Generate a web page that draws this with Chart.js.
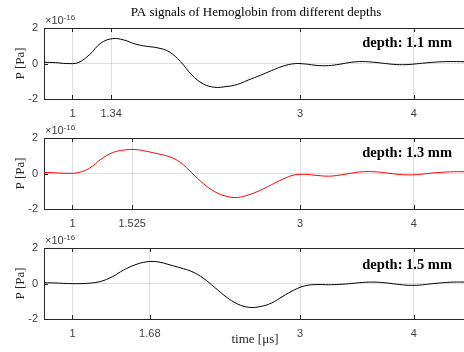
<!DOCTYPE html>
<html>
<head>
<meta charset="utf-8">
<script src="https://cdn.jsdelivr.net/npm/chart.js@4.4.0/dist/chart.umd.min.js"></script>
<style>
  html, body { margin: 0; padding: 0; background: #fff; overflow: hidden; }
  body { width: 464px; height: 352px; position: relative; }
  canvas { position: absolute; left: 0; }
</style>
</head>
<body>
<canvas id="c1" width="470" height="118" style="top:0px"></canvas>
<canvas id="c2" width="470" height="112" style="top:118px"></canvas>
<canvas id="c3" width="470" height="122" style="top:230px"></canvas>
<script>
// time axis in microseconds
const timeUs = [0.75, 0.85, 0.95, 1.05, 1.15, 1.25, 1.35, 1.45, 1.55, 1.65,
  1.75, 1.85, 1.95, 2.05, 2.15, 2.25, 2.35, 2.45, 2.55, 2.65,
  2.75, 2.85, 2.95, 3.05, 3.15, 3.25, 3.35, 3.45, 3.55, 3.65,
  3.75, 3.85, 3.95, 4.05, 4.15, 4.25, 4.35, 4.45];

// pressure, in units of 1e-16 Pa
const p11 = [0.07, 0.05, 0.0, 0.05, 0.5, 1.15, 1.4, 1.33, 1.1, 0.97,
  0.88, 0.66, 0.1, -0.65, -1.15, -1.34, -1.3, -1.18, -0.92, -0.67,
  -0.4, -0.15, -0.01, -0.03, -0.11, -0.12, -0.04, 0.07, 0.11, 0.07,
  0.0, -0.06, -0.06, 0.0, 0.06, 0.1, 0.11, 0.1];
const p13 = [0.06, 0.04, 0.01, 0.05, 0.3, 0.8, 1.17, 1.32, 1.35, 1.25,
  1.11, 0.95, 0.62, 0.03, -0.57, -1.02, -1.28, -1.35, -1.2, -0.95,
  -0.63, -0.32, -0.08, -0.05, -0.11, -0.15, -0.09, 0.02, 0.1, 0.1,
  0.04, -0.04, -0.08, -0.05, 0.02, 0.07, 0.1, 0.1];
const p15 = [0.04, 0.03, 0.0, -0.01, 0.02, 0.12, 0.38, 0.76, 1.05, 1.22,
  1.22, 1.06, 0.88, 0.67, 0.3, -0.22, -0.75, -1.15, -1.34, -1.3,
  -1.1, -0.72, -0.36, -0.12, -0.06, -0.07, -0.05, 0.0, 0.06, 0.08,
  0.04, -0.04, -0.1, -0.09, -0.02, 0.04, 0.08, 0.08];

const xTicks11 = [1, 1.34, 3, 4];
const xTicks13 = [1, 1.525, 3, 4];
const xTicks15 = [1, 1.68, 3, 4];
const yTicks = [-2, 0, 2];

const depthLabels = ['depth: 1.1 mm', 'depth: 1.3 mm', 'depth: 1.5 mm'];
const titleText = 'PA signals of Hemoglobin from different depths';
const yLabel = 'P [Pa]';
const xLabel = 'time [\u03bcs]';

const AXIS = '#262626';
const TICK = '#404040';
const SANS = '"Liberation Sans", Arial, sans-serif';
const SERIF = '"Liberation Serif", "Times New Roman", serif';

// box, inner ticks and the text around each panel
const matlabAxes = {
  id: 'matlabAxes',
  afterDraw(chart, args, opts) {
    const ctx = chart.ctx;
    const a = chart.chartArea;
    const xs = chart.scales.x;
    const ys = chart.scales.y;
    ctx.save();
    ctx.strokeStyle = AXIS;
    ctx.lineWidth = 1;
    ctx.beginPath();
    ctx.moveTo(a.left, a.top + 0.5);
    ctx.lineTo(a.right, a.top + 0.5);
    ctx.moveTo(a.right - 0.5, a.top);
    ctx.lineTo(a.right - 0.5, a.bottom);
    xs.ticks.forEach(t => {
      const px = Math.round(xs.getPixelForValue(t.value)) + 0.5;
      ctx.moveTo(px, a.bottom);
      ctx.lineTo(px, a.bottom - 4);
      ctx.moveTo(px, a.top);
      ctx.lineTo(px, a.top + 4);
    });
    ys.ticks.forEach(t => {
      const py = Math.round(ys.getPixelForValue(t.value)) + 0.5;
      ctx.moveTo(a.left, py);
      ctx.lineTo(a.left + 4, py);
    });
    ctx.stroke();

    // exponent
    ctx.fillStyle = TICK;
    ctx.textAlign = 'left';
    ctx.textBaseline = 'alphabetic';
    ctx.font = '11px ' + SANS;
    const base = a.top - opts.expGap;
    ctx.fillText('\u00d710', a.left + 1, base);
    const w = ctx.measureText('\u00d710').width;
    ctx.font = '8px ' + SANS;
    ctx.fillText('-16', a.left + 1 + w, base - 4);

    // depth label
    ctx.fillStyle = '#000';
    ctx.textAlign = 'right';
    ctx.font = 'bold 14.5px ' + SERIF;
    ctx.fillText(opts.depth, 452, a.top + opts.depthDy);

    // y label
    ctx.save();
    ctx.translate(21, (a.top + a.bottom) / 2);
    ctx.rotate(-Math.PI / 2);
    ctx.textAlign = 'center';
    ctx.textBaseline = 'middle';
    ctx.font = '13px ' + SERIF;
    ctx.fillStyle = AXIS;
    ctx.fillText(yLabel, 0, 0);
    ctx.restore();

    ctx.textAlign = 'center';
    ctx.font = '13px ' + SERIF;
    if (opts.title) {
      ctx.fillStyle = '#000';
      ctx.fillText(opts.title, 256, 16);
    }
    if (opts.xLabel) {
      ctx.fillStyle = AXIS;
      ctx.fillText(opts.xLabel, 255, 113);
    }
    ctx.restore();
  }
};

function makePanel(id, values, color, xTicks, padTop, xAxisH, extra) {
  const points = timeUs.map((t, i) => ({ x: t, y: values[i] }));
  return new Chart(document.getElementById(id), {
    type: 'line',
    data: {
      datasets: [{
        data: points,
        borderColor: color,
        borderWidth: 1,
        pointRadius: 0,
        tension: 0.4,
        fill: false
      }]
    },
    options: {
      responsive: false,
      animation: false,
      devicePixelRatio: 1,
      layout: { padding: { top: padTop, left: 0, right: 5, bottom: 0 } },
      plugins: {
        legend: { display: false },
        tooltip: { enabled: false },
        matlabAxes: extra
      },
      scales: {
        x: {
          type: 'linear',
          min: 0.75,
          max: 4.45,
          afterBuildTicks: s => { s.ticks = xTicks.map(v => ({ value: v })); },
          afterFit: s => { s.height = xAxisH; },
          ticks: {
            autoSkip: false,
            maxRotation: 0,
            padding: 8,
            color: TICK,
            font: { family: SANS, size: 11 },
            callback: v => String(v)
          },
          grid: { color: 'rgba(38,38,38,0.15)', drawTicks: false },
          border: { color: AXIS, width: 1 }
        },
        y: {
          min: -2,
          max: 2,
          afterBuildTicks: s => { s.ticks = yTicks.map(v => ({ value: v })); },
          afterFit: s => { s.width = 44; },
          ticks: {
            padding: 6,
            color: TICK,
            font: { family: SANS, size: 11 },
            callback: v => String(v)
          },
          grid: { color: 'rgba(38,38,38,0.15)', drawTicks: false },
          border: { color: AXIS, width: 1 }
        }
      }
    },
    plugins: [matlabAxes]
  });
}

makePanel('c1', p11, '#000000', xTicks11, 28, 19,
  { depth: depthLabels[0], depthDy: 19, expGap: 4, title: titleText });
makePanel('c2', p13, '#ff0000', xTicks13, 20, 21,
  { depth: depthLabels[1], depthDy: 19, expGap: 4 });
makePanel('c3', p15, '#000000', xTicks15, 18, 33,
  { depth: depthLabels[2], depthDy: 21, expGap: 4, xLabel: xLabel });
</script>
</body>
</html>
